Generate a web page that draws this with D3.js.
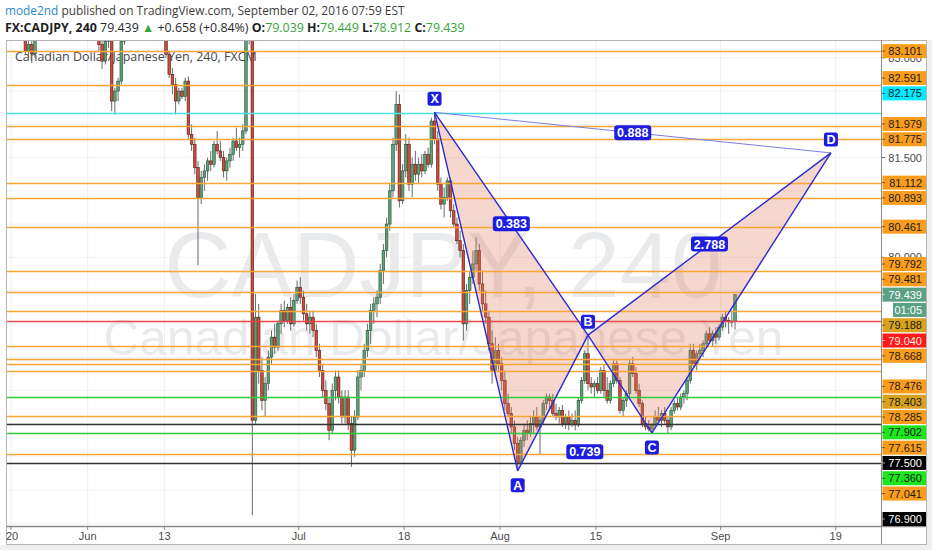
<!DOCTYPE html>
<html><head><meta charset="utf-8">
<script src="https://cdn.jsdelivr.net/npm/d3@7"></script>
<style>html,body{margin:0;padding:0;background:#fff;}svg{display:block;}</style>
</head><body><svg id="c" width="932" height="550"></svg>
<script>
// ---------------- DATA ----------------
const firstDate = "2016-05-20";
const barsPerDay = 3;
const tickLabels = ["20","Jun","13","Jul","18","Aug","15","Sep","19"];
const tickDates  = ["2016-05-20","2016-06-01","2016-06-13","2016-07-01","2016-07-18","2016-08-01","2016-08-15","2016-09-01","2016-09-19"];

const opens = [
83.90,83.80,83.70, 83.80,83.45,83.10, 83.20,83.06,83.40, 83.65,83.85,83.90, 84.00,84.20,84.30,
84.20,84.10,84.25, 84.40,84.50,84.60, 84.55,84.30,84.10, 84.20,83.90,84.00, 83.70,83.20,82.95,
83.25,83.35,82.35, 82.50,82.65,83.25, 83.50,83.65,83.80, 83.95,84.10,84.20, 84.10,83.90,83.70,
83.75,83.65,83.60, 83.50,83.05,82.75, 82.60,82.35,82.50, 82.42,82.65,81.85, 81.70,81.35,80.90,
81.20,81.30,81.45, 81.40,81.70,81.60, 81.50,81.30,81.45, 81.55,81.75,81.65, 81.70,81.90,83.40,
83.50,77.55,79.10, 78.30,77.85,78.10, 78.50,78.80,78.65, 79.00,79.20,79.05, 79.25,79.00,79.35,
79.55,79.40,79.15, 79.00,79.10,78.90, 78.60,78.30,78.00, 77.80,77.40,78.00, 78.20,77.90,77.60,
77.90,77.50,77.10, 77.60,78.20,78.30, 78.60,78.90,79.20, 79.30,79.40,79.80, 80.10,80.50,81.00,
81.70,82.30,80.85, 81.30,81.70,81.10, 81.40,81.25,81.40, 81.30,81.55,81.40, 82.05,81.78,81.10,
80.80,80.90,81.15, 80.70,80.50,80.25, 80.10,79.00,79.50, 79.70,79.90,80.10, 79.60,79.30,79.10,
78.70,78.30,78.60, 78.40,78.15,77.80, 77.65,77.45,77.20, 76.92,77.25,77.40, 77.35,77.50,77.60,
77.45,77.55,77.80, 77.90,77.85,77.65, 77.60,77.70,77.50, 77.60,77.50,77.55, 77.48,77.85,78.15,
78.55,78.10,78.05, 78.10,78.00,78.30, 78.00,77.85,78.10, 78.40,78.15,77.70, 77.85,77.95,78.40,
78.25,78.00,77.80, 77.50,77.45,77.42, 77.48,77.60,77.55, 77.65,77.55,77.45, 77.70,77.80,77.75,
77.90,77.95,78.15, 78.60,78.40,78.55, 78.60,78.70,78.85, 78.75,78.85,78.80, 78.95,79.10,79.05,
79.04,79.039];
const highs = [
84.10,84.00,83.90, 83.85,83.50,83.30, 83.25,83.45,83.70, 83.90,84.00,84.10, 84.30,84.40,84.45,
84.35,84.30,84.50, 84.60,84.70,84.75, 84.65,84.45,84.30, 84.30,84.10,84.10, 83.75,83.35,83.30,
83.45,83.40,82.55, 82.70,83.30,83.60, 83.70,83.90,84.00, 84.20,84.30,84.35, 84.20,84.00,83.85,
83.90,83.80,83.75, 83.60,83.10,82.85, 82.70,82.55,82.55, 82.70,82.72,82.00, 81.80,81.45,81.30,
81.40,81.50,81.60, 81.75,81.90,81.75, 81.60,81.50,81.65, 81.80,81.95,81.80, 82.00,83.60,83.70,
83.65,79.45,79.30, 78.50,78.20,78.60, 78.90,79.00,79.05, 79.30,79.35,79.30, 79.40,79.45,79.65,
79.70,79.50,79.30, 79.20,79.20,79.00, 78.70,78.40,78.15, 77.90,78.10,78.30, 78.30,78.00,78.00,
78.00,77.60,77.70, 78.30,78.40,78.70, 79.00,79.30,79.40, 79.50,79.90,80.20, 80.60,81.10,81.80,
82.50,82.45,81.40, 81.85,81.80,81.50, 81.60,81.50,81.55, 81.60,81.65,82.10, 82.18,81.90,81.20,
81.05,81.20,81.20, 80.80,80.60,80.40, 80.20,79.60,79.80, 80.10,80.30,80.20, 79.80,79.50,79.20,
78.90,78.80,78.70, 78.50,78.30,77.95, 77.75,77.55,77.30, 77.30,77.50,77.55, 77.60,77.70,77.75,
77.60,77.85,77.95, 77.95,77.95,77.80, 77.75,77.78,77.65, 77.70,77.65,77.70, 77.90,78.20,78.60,
78.83,78.20,78.15, 78.20,78.35,78.40, 78.20,78.15,78.45, 78.45,78.20,77.90, 78.00,78.45,78.50,
78.35,78.10,77.85, 77.60,77.55,77.50, 77.70,77.75,77.70, 77.75,77.60,77.75, 77.85,77.90,77.95,
78.00,78.20,78.70, 78.70,78.60,78.70, 78.75,78.90,78.95, 78.90,78.95,79.00, 79.15,79.20,79.10,
79.20,79.449];
const lows = [
83.70,83.60,83.55, 83.40,83.05,83.00, 82.92,83.00,83.35, 83.50,83.70,83.80, 83.90,84.05,84.10,
84.00,83.95,84.20, 84.30,84.40,84.45, 84.20,84.00,83.90, 83.80,83.70,83.60, 83.10,82.83,82.90,
83.15,82.20,82.15, 82.35,82.60,83.20, 83.40,83.55,83.70, 83.85,84.00,84.00, 83.80,83.60,83.50,
83.55,83.45,83.40, 83.00,82.70,82.45, 82.15,82.30,82.38, 82.35,81.78,81.60, 81.25,79.88,80.80,
81.00,81.15,81.30, 81.35,81.55,81.45, 81.20,81.15,81.35, 81.45,81.60,81.50, 81.60,81.85,83.20,
76.12,77.50,78.10, 77.70,77.60,78.00, 78.40,78.55,78.60, 78.85,78.95,79.00, 78.90,78.95,79.30,
79.30,79.05,78.90, 78.85,78.80,78.50, 78.20,77.90,77.70, 77.25,77.35,77.85, 77.80,77.50,77.50,
77.40,76.85,77.00, 77.55,78.00,78.20, 78.50,78.70,79.00, 79.10,79.30,79.60, 80.00,80.40,80.90,
81.60,80.75,80.80, 81.20,81.00,80.90, 81.15,81.10,81.20, 81.25,81.35,81.35, 81.70,81.00,80.72,
80.60,80.85,80.60, 80.45,80.20,80.00, 78.75,78.90,79.30, 79.60,79.80,79.50, 79.20,79.00,78.60,
78.10,78.20,78.30, 78.00,77.70,77.60, 77.35,77.10,76.79, 76.88,77.15,77.25, 77.30,77.35,77.40,
77.03,77.50,77.70, 77.70,77.60,77.55, 77.50,77.45,77.42, 77.40,77.45,77.40, 77.45,77.80,78.10,
78.00,77.95,77.90, 77.95,77.95,77.90, 77.80,77.80,78.05, 78.10,77.65,77.60, 77.75,77.90,78.20,
77.95,77.75,77.45, 77.40,77.38,77.36, 77.45,77.50,77.45, 77.50,77.35,77.40, 77.65,77.70,77.70,
77.80,77.85,78.10, 78.35,78.30,78.45, 78.50,78.65,78.70, 78.65,78.70,78.75, 78.90,78.95,78.85,
78.95,78.912];
const closes = [
83.80,83.70,83.80, 83.45,83.10,83.20, 83.06,83.40,83.65, 83.85,83.90,84.00, 84.20,84.30,84.20,
84.10,84.25,84.40, 84.50,84.60,84.55, 84.30,84.10,84.20, 83.90,84.00,83.70, 83.20,82.95,83.25,
83.35,82.35,82.50, 82.65,83.25,83.50, 83.65,83.80,83.95, 84.10,84.20,84.10, 83.90,83.70,83.75,
83.65,83.60,83.50, 83.05,82.75,82.60, 82.35,82.50,82.42, 82.65,81.85,81.70, 81.35,80.90,81.20,
81.30,81.45,81.40, 81.70,81.60,81.50, 81.30,81.45,81.55, 81.75,81.65,81.70, 81.90,83.40,83.50,
77.55,79.10,78.30, 77.85,78.10,78.50, 78.80,78.65,79.00, 79.20,79.05,79.25, 79.00,79.35,79.55,
79.40,79.15,79.00, 79.10,78.90,78.60, 78.30,78.00,77.80, 77.40,78.00,78.20, 77.90,77.60,77.90,
77.50,77.10,77.60, 78.20,78.30,78.60, 78.90,79.20,79.30, 79.40,79.80,80.10, 80.50,81.00,81.70,
82.30,80.85,81.30, 81.70,81.10,81.40, 81.25,81.40,81.30, 81.55,81.40,82.05, 81.78,81.10,80.80,
80.90,81.15,80.70, 80.50,80.25,80.10, 79.00,79.50,79.70, 79.90,80.10,79.60, 79.30,79.10,78.70,
78.30,78.60,78.40, 78.15,77.80,77.65, 77.45,77.20,76.92, 77.25,77.40,77.35, 77.50,77.60,77.45,
77.55,77.80,77.90, 77.85,77.65,77.60, 77.70,77.50,77.60, 77.50,77.55,77.48, 77.85,78.15,78.55,
78.10,78.05,78.10, 78.00,78.30,78.00, 77.85,78.10,78.40, 78.15,77.70,77.85, 77.95,78.40,78.25,
78.00,77.80,77.50, 77.45,77.42,77.48, 77.60,77.55,77.65, 77.55,77.45,77.70, 77.80,77.75,77.90,
77.95,78.15,78.60, 78.40,78.55,78.60, 78.70,78.85,78.75, 78.85,78.80,78.95, 79.10,79.05,79.04,
79.04,79.439];

// horizontal price levels drawn on the chart ("w" = blank label slot, no visible line)
const levelPrices = [83.101,82.591,82.175,82.100,81.979,81.775,81.112,80.893,80.461,79.792,79.481,79.188,79.040,78.668,78.550,78.476,78.403,78.285,77.902,77.615,77.500,77.360,77.041,76.950,76.900];
const levelKinds  = ["o","o","c","w","o","o","o","o","o","o","o","m","r","o","w","o","m","o","g","o","k","g","o","w","k"];
const lastPrice = 79.439;
const countdown = "01:05";

// harmonic pattern
const patternLabels = ["X","A","B","C","D"];
const patternBars   = [132,158,180,200,256];
const patternPrices = [82.18,76.79,78.83,77.36,81.57];
const ratioLabels = ["0.383","0.739","2.788","0.888"];
const ratioPairs  = [[0,2],[1,3],[2,4],[0,4]];

// ---------------- LAYOUT / STYLE ----------------
const W=932,H=550;
const plot={left:6,top:40,right:881,bottom:526};
const axisRight=926, frameBottom=544;
const kindStyle={
  o:{line:"#f9a537",bg:"#fb9d1c",fg:"#1b1b1b"},
  m:{line:"#f9a537",bg:"#d9a21e",fg:"#1b1b1b"},
  c:{line:"#49e3ef",bg:"#00eaff",fg:"#1b1b1b"},
  r:{line:"#e64a4a",bg:"#ff1a1a",fg:"#ffe8e8"},
  g:{line:"#2ecc40",bg:"#1ee61e",fg:"#1b1b1b"},
  k:{line:"#333333",bg:"#000000",fg:"#ffffff"},
  w:{line:"none",bg:"#ffffff",fg:"#ffffff"}
};
const upFill="#5f9f78",upStroke="#225437",dnFill="#cc4b3a",dnStroke="#5b1a13",wickCol="#6a6a6a";
const blue="#1d1de0";

function tradingDayIndex(s){
  const start=new Date(firstDate+"T12:00:00Z"), d=new Date(s+"T12:00:00Z");
  let n=0;
  for(let t=new Date(start); t<d; t.setUTCDate(t.getUTCDate()+1)){const w=t.getUTCDay(); if(w!==0&&w!==6) n++;}
  return n;
}
const dayOfBar = i => (i+0.5)/barsPerDay;

const x=d3.scaleLinear().domain([-0.52,90.72]).range([plot.left,plot.right]);
const y=d3.scaleLinear().domain([75.96,83.268]).range([plot.bottom,plot.top]);

const svg=d3.select("#c");
svg.append("rect").attr("width",W).attr("height",H).attr("fill","#fff");
svg.append("rect").attr("x",0).attr("y",frameBottom+1).attr("width",W).attr("height",H-frameBottom-1).attr("fill","#efefef");
svg.append("rect").attr("x",axisRight+1).attr("y",plot.top).attr("width",W-axisRight-1).attr("height",H-plot.top).attr("fill","#efefef");

svg.append("defs").append("clipPath").attr("id","clip").append("rect")
  .attr("x",plot.left).attr("y",plot.top).attr("width",plot.right-plot.left).attr("height",plot.bottom-plot.top);

const g=svg.append("g").attr("clip-path","url(#clip)");

// grid
const priceTicks=y.ticks(15).filter(v=>Math.abs(v*2-Math.round(v*2))<1e-9);
g.selectAll(".hg").data(priceTicks).enter().append("line").attr("class","hg")
  .attr("x1",plot.left).attr("x2",plot.right).attr("y1",d=>y(d)).attr("y2",d=>y(d))
  .attr("stroke","#f1f2f5").attr("stroke-width",1);
const tickX=tickDates.map(tradingDayIndex).map(d=>x(d));
g.selectAll(".vg").data(tickX).enter().append("line").attr("class","vg")
  .attr("x1",d=>d).attr("x2",d=>d).attr("y1",plot.top).attr("y2",plot.bottom)
  .attr("stroke","#eef0f3").attr("stroke-width",1);

// watermark
function fitText(sel,target){const w=sel.node().getComputedTextLength();const fs=parseFloat(sel.attr("font-size"));sel.attr("font-size",fs*target/w);}
const cx=(plot.left+plot.right)/2;
const wm1=g.append("text").attr("x",cx).attr("y",297).attr("text-anchor","middle")
  .attr("font-family","Liberation Sans, Arial, sans-serif").attr("font-size",90).attr("fill","#e9eaec").text("CADJPY, 240");
fitText(wm1,558);
const wm2=g.append("text").attr("x",cx).attr("y",355).attr("text-anchor","middle")
  .attr("font-family","Liberation Sans, Arial, sans-serif").attr("font-size",48).attr("fill","#e9eaec").text("Canadian Dollar/Japanese Yen");
fitText(wm2,680);

// legend
const leg=g.append("text").attr("x",15).attr("y",61).attr("font-family","Open Sans, sans-serif")
  .attr("font-size",12).attr("fill","#474747").text("Canadian Dollar/Japanese Yen, 240, FXCM");
fitText(leg,242);

// candles
const idx=d3.range(opens.length);
const cg=g.append("g");
cg.selectAll(".wick").data(idx).enter().append("line").attr("class","wick")
  .attr("x1",i=>x(dayOfBar(i))).attr("x2",i=>x(dayOfBar(i)))
  .attr("y1",i=>y(highs[i])).attr("y2",i=>y(lows[i]))
  .attr("stroke",wickCol).attr("stroke-width",1);
const bw=2.6;
cg.selectAll(".body").data(idx).enter().append("rect").attr("class","body")
  .attr("x",i=>x(dayOfBar(i))-bw/2).attr("width",bw)
  .attr("y",i=>y(Math.max(opens[i],closes[i])))
  .attr("height",i=>Math.max(1,Math.abs(y(opens[i])-y(closes[i]))))
  .attr("fill",i=>closes[i]>=opens[i]?upFill:dnFill)
  .attr("stroke",i=>closes[i]>=opens[i]?upStroke:dnStroke).attr("stroke-width",0.6);

// pattern
const P=patternLabels.map((l,k)=>({l,x:x(dayOfBar(patternBars[k])),y:y(patternPrices[k])}));
const tri=[[0,1,2],[2,3,4]];
g.selectAll(".tri").data(tri).enter().append("path").attr("class","tri")
  .attr("d",t=>"M"+t.map(k=>P[k].x+","+P[k].y).join("L")+"Z")
  .attr("fill","rgba(225,122,88,0.3)");

// level lines
const visLevels=levelPrices.map((p,k)=>({p,k:levelKinds[k]})).filter(d=>d.k!=="w");
g.selectAll(".lvl").data(visLevels).enter().append("line").attr("class","lvl")
  .attr("x1",plot.left).attr("x2",plot.right).attr("y1",d=>Math.round(y(d.p))+0.5).attr("y2",d=>Math.round(y(d.p))+0.5)
  .attr("stroke",d=>kindStyle[d.k].line).attr("stroke-width",1.3);

// pattern lines
g.selectAll(".ratioLine").data(ratioPairs.filter(p=>p[1]-p[0]!==2)).enter().append("line").attr("class","ratioLine")
  .attr("x1",p=>P[p[0]].x).attr("y1",p=>P[p[0]].y).attr("x2",p=>P[p[1]].x).attr("y2",p=>P[p[1]].y)
  .attr("stroke","#7c7ce6").attr("stroke-width",1);
const solid=[[0,1],[1,2],[2,3],[3,4],[0,2],[2,4]];
g.selectAll(".legLine").data(solid).enter().append("line").attr("class","legLine")
  .attr("x1",p=>P[p[0]].x).attr("y1",p=>P[p[0]].y).attr("x2",p=>P[p[1]].x).attr("y2",p=>P[p[1]].y)
  .attr("stroke","#2a2ad2").attr("stroke-width",1.4);

// ratio labels
ratioPairs.forEach((p,k)=>{
  const mx=(P[p[0]].x+P[p[1]].x)/2, my=(P[p[0]].y+P[p[1]].y)/2;
  g.append("rect").attr("x",mx-18.5).attr("y",my-7.5).attr("width",37).attr("height",15).attr("rx",3).attr("fill",blue);
  g.append("text").attr("x",mx).attr("y",my+4.5).attr("text-anchor","middle").attr("font-family","Liberation Sans, Arial, sans-serif")
    .attr("font-size",12.5).attr("font-weight","bold").attr("fill","#fff").text(ratioLabels[k]);
});
// point labels
P.forEach((pt,k)=>{
  const isHigh = k%2===0;
  const ly = isHigh ? pt.y-13.5 : pt.y+14.5;
  g.append("rect").attr("x",pt.x-7).attr("y",ly-7).attr("width",14).attr("height",14).attr("rx",2.5).attr("fill",blue);
  g.append("text").attr("x",pt.x).attr("y",ly+4.5).attr("text-anchor","middle").attr("font-family","Liberation Sans, Arial, sans-serif")
    .attr("font-size",12.5).attr("font-weight","bold").attr("fill","#fff").text(pt.l);
});

// frame
svg.append("rect").attr("x",plot.left+0.5).attr("y",plot.top+0.5).attr("width",axisRight-plot.left).attr("height",frameBottom-plot.top)
  .attr("fill","none").attr("stroke","#b4b4b4");
svg.append("line").attr("x1",plot.right+0.5).attr("x2",plot.right+0.5).attr("y1",plot.top).attr("y2",frameBottom).attr("stroke","#8a8a8a");
svg.append("line").attr("x1",plot.left).attr("x2",axisRight).attr("y1",plot.bottom+0.5).attr("y2",plot.bottom+0.5).attr("stroke","#8a8a8a").attr("stroke-width",1.5);

// x axis labels
const xa=svg.append("g");
tickX.forEach((px,k)=>{
  xa.append("line").attr("x1",px).attr("x2",px).attr("y1",plot.bottom+1).attr("y2",plot.bottom+4).attr("stroke","#888");
  xa.append("text").attr("x",Math.max(px,plot.left+6)).attr("y",plot.bottom+14).attr("text-anchor","middle")
    .attr("font-family","Liberation Sans, Arial, sans-serif").attr("font-size",11).attr("fill","#4a4a4a").text(tickLabels[k]);
});

// price axis labels: last price label anchored, others pushed away from it
const fmt=d3.format(".3f");
const gap=15.3;
let items=levelPrices.map((p,k)=>({y:y(p),text:fmt(p),st:kindStyle[levelKinds[k]],full:true}));
items.push({y:y(lastPrice),text:fmt(lastPrice),st:{bg:"#59a085",fg:"#ffffff"},full:true,last:true});
items.sort((a,b)=>a.y-b.y);
const li=items.findIndex(d=>d.last);
items.splice(li+1,0,{y:y(lastPrice)+gap,text:countdown,st:{bg:"#59a085",fg:"#ffffff"},full:false,cd:true});
items[li].ly=items[li].y; items[li+1].ly=items[li+1].y;
for(let i=li-1;i>=0;i--) items[i].ly=Math.min(items[i].y,items[i+1].ly-gap);
for(let i=li+2;i<items.length;i++) items[i].ly=Math.max(items[i].y,items[i-1].ly+gap);
items.forEach(d=>{d.ly=Math.max(plot.top+7,Math.min(plot.bottom-7,d.ly));});

const pa=svg.append("g");
const labY=items.map(d=>d.ly);
priceTicks.forEach(v=>{
  const ty=y(v);
  if(ty<plot.top+6||ty>plot.bottom-6) return;
  if(labY.some(l=>Math.abs(l-ty)<6)) return;
  const above=labY.some(l=>l<ty&&ty-l<15), below=labY.some(l=>l>ty&&l-ty<15);
  if(above&&below) return;
  pa.append("line").attr("x1",plot.right+1).attr("x2",plot.right+4).attr("y1",ty).attr("y2",ty).attr("stroke","#666");
  pa.append("text").attr("x",922).attr("y",ty+4).attr("text-anchor","end").attr("font-family","Liberation Sans, Arial, sans-serif")
    .attr("font-size",11).attr("fill","#4a4a4a").text(fmt(v));
});
items.forEach(d=>{
  const x0=d.full?plot.right+1.5:893;
  if(d.cd) pa.append("rect").attr("x",plot.right+1.5).attr("y",d.ly-7).attr("width",x0-plot.right-1.5).attr("height",14).attr("fill","#fff");
  pa.append("rect").attr("x",x0).attr("y",d.ly-7).attr("width",axisRight-x0).attr("height",14).attr("fill",d.st.bg);
  if(d.st.bg==="#ffffff") return;
  if(d.full) pa.append("line").attr("x1",plot.right+1).attr("x2",plot.right+4).attr("y1",d.ly).attr("y2",d.ly).attr("stroke",d.st.fg).attr("stroke-opacity",0.6);
  pa.append("text").attr("x",922).attr("y",d.ly+4).attr("text-anchor","end").attr("font-family","Liberation Sans, Arial, sans-serif")
    .attr("font-size",11).attr("fill",d.st.fg).text(d.text);
});

// header
const h1=svg.append("text").attr("x",5).attr("y",15).attr("font-family","Open Sans, sans-serif").attr("font-size",12.5).attr("fill","#3c3c3c");
h1.append("tspan").attr("fill","#2f87c8").text("mode2nd");
h1.append("tspan").text(" published on TradingView.com, September 02, 2016 07:59 EST");
fitText(h1,400);
const green="#37a437";
const h2parts=[["FX:CADJPY, 240","#1e1e1e","bold"],[" 79.439 ","#2a2a2a","normal"],["\u25B2",green,"normal"],[" +0.658 (+0.84%) ","#2a2a2a","normal"],
  ["O:","#1e1e1e","bold"],["79.039",green,"normal"],[" H:","#1e1e1e","bold"],["79.449",green,"normal"],
  [" L:","#1e1e1e","bold"],["78.912",green,"normal"],[" C:","#1e1e1e","bold"],["79.439",green,"normal"]];
const h2=svg.append("text").attr("x",5).attr("y",32).attr("font-family","Open Sans, sans-serif").attr("font-size",12.5);
h2parts.forEach(p=>h2.append("tspan").attr("fill",p[1]).attr("font-weight",p[2]).text(p[0]));
fitText(h2,460);
</script></body></html>
